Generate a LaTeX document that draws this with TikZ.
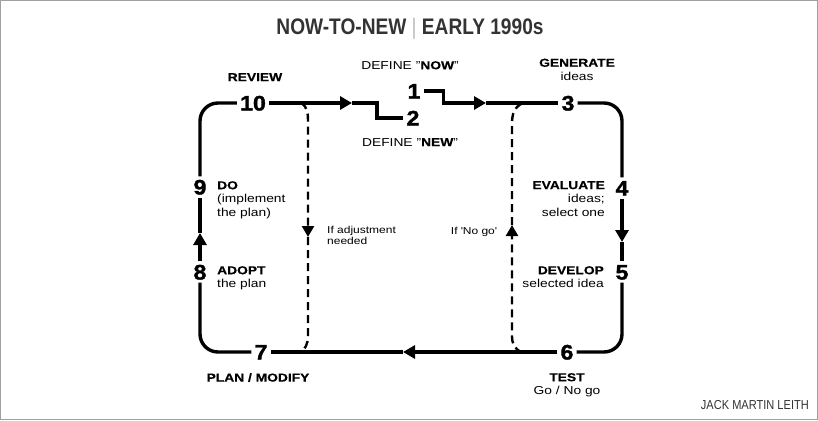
\documentclass[tikz,border=0pt]{standalone}
\usepackage{fontspec}
\setmainfont{Liberation Sans}[FakeStretch=1.2,BoldFeatures={FakeBold=0.4}]
\newfontfamily\titlefont{Liberation Sans}[FakeStretch=0.85]
\newfontfamily\numfont{Liberation Sans}[FakeStretch=1.1,BoldFeatures={FakeBold=1.6}]
\usetikzlibrary{arrows.meta}
\definecolor{titlegray}{HTML}{333333}
\definecolor{bargray}{HTML}{BBBBBB}
\definecolor{framegray}{HTML}{A0A0A0}
\tikzset{
  num/.style={font=\numfont\bfseries\fontsize{21}{21}\selectfont, inner sep=3pt, text height=15pt, text depth=0pt},
  lbl/.style={font=\fontsize{11.5}{13.5}\selectfont, inner sep=0pt},
  note/.style={font=\fontsize{10}{11}\selectfont, inner sep=0pt},
  flow/.style={line width=3.4pt},
  retry/.style={line width=2.4pt, dash pattern=on 8pt off 5pt},
  head/.style={-{Triangle[length=12pt,width=13pt]}},
  backhead/.style={-{Triangle[length=11pt,width=12pt]}},
}
\begin{document}
\begin{tikzpicture}[x=1pt,y=-1pt]
\useasboundingbox (0,0) rectangle (818,420);
\draw[framegray,line width=1pt] (0.5,0.5) rectangle (817.5,419.5);
\node[font=\titlefont\bfseries\fontsize{22.5}{22.5}\selectfont,text=titlegray] (title) at (410,28.5) {NOW-TO-NEW {\mdseries\color{bargray}|} EARLY 1990s};
% steps
\node[num] (n1) at (414,91) {1};
\node[num] (n2) at (413,118) {2};
\node[num] (n3) at (568,103) {3};
\node[num] (n4) at (622,188) {4};
\node[num] (n5) at (622,272) {5};
\node[num] (n6) at (567,352) {6};
\node[num] (n7) at (261,352) {7};
\node[num] (n8) at (200,272) {8};
\node[num] (n9) at (200,187) {9};
\node[num] (n10) at (253,103) {10};
% labels
\node[lbl,anchor=north] (review) at (255,73) {\textbf{REVIEW}};
\node[lbl,anchor=north] (now) at (410,61) {DEFINE "\textbf{NOW}"};
\node[lbl,anchor=north,align=center] (generate) at (577,58.5) {\textbf{GENERATE}\\ideas};
\node[lbl,anchor=north] (new) at (410,138) {DEFINE "\textbf{NEW}"};
\node[lbl,anchor=north west,align=left] (do) at (217,181) {\textbf{DO}\\(implement\\the plan)};
\node[lbl,anchor=north east,align=right] (evaluate) at (605,181) {\textbf{EVALUATE}\\ideas;\\select one};
\node[lbl,anchor=north west,align=left] (adopt) at (217,266) {\textbf{ADOPT}\\the plan};
\node[lbl,anchor=north east,align=right] (develop) at (604,266) {\textbf{DEVELOP}\\selected idea};
\node[note,anchor=north west,align=left] (adjust) at (327,226.5) {If adjustment\\needed};
\node[note,anchor=north east] (nogo) at (497,227) {If \textquotesingle No go\textquotesingle};
\node[lbl,anchor=north] (plan) at (258,373) {\textbf{PLAN / MODIFY}};
\node[lbl,anchor=north,align=center] (test) at (567,373) {\textbf{TEST}\\Go / No go};
\node[font=\titlefont\fontsize{13}{13}\selectfont,text=titlegray,anchor=north east,inner sep=0pt] (credit) at (809,400) {JACK MARTIN LEITH};
% main loop
\coordinate (a10) at (352,103);
\coordinate (a1) at (486,103);
\coordinate (a4) at (622,242);
\coordinate (a6) at (403,352);
\coordinate (a8) at (200,233);
\draw[flow,rounded corners=18pt] (n9.north) |- (n10.west);
\draw[flow,head] (n10.east) -- (a10);
\draw[flow] (a10) -- ++(25,0) |- (n2.west);
\draw[flow,head] (n1.east) -- ++(20,0) |- (a1);
\draw[flow] (a1) -- (n3.west);
\draw[flow,rounded corners=18pt] (n3.east) -| (n4.north);
\draw[flow,head] (n4.south) -- (a4);
\draw[flow] (a4) -- (n5.north);
\draw[flow,rounded corners=18pt] (n5.south) |- (n6.east);
\draw[flow,head] (n6.west) -- (a6);
\draw[flow] (a6) -- (n7.east);
\draw[flow,rounded corners=18pt] (n7.west) -| (n8.south);
\draw[flow,head] (n8.north) -- (a8);
\draw[flow] (a8) -- (n9.south);
% way back
\coordinate (l1) at (301,103);
\coordinate (la) at (308,237);
\coordinate (l2) at (300,352);
\coordinate (r1) at (523,103);
\coordinate (ra) at (512,225);
\coordinate (r2) at (522,352);
\draw[retry,backhead] (l1) .. controls (308,107) and (308,114) .. (308,124) -- (la);
\draw[retry] (la) -- (308,336) .. controls (308,344) and (305,350) .. (l2);
\draw[retry,backhead] (r2) .. controls (515,350) and (512,344) .. (512,336) -- (ra);
\draw[retry] (ra) -- (512,124) .. controls (512,114) and (514,107) .. (r1);
\end{tikzpicture}
\end{document}
